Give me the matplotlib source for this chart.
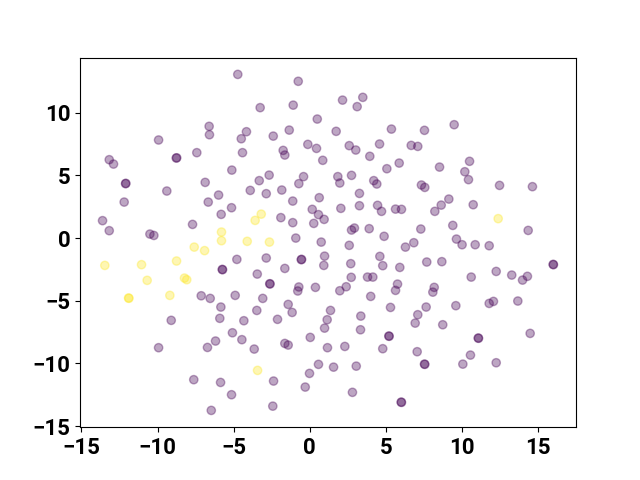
import numpy as np
import matplotlib
matplotlib.use("Agg")
import matplotlib.pyplot as plt

plt.rcParams["font.family"] = ["Roboto", "DejaVu Sans"]
plt.rcParams["font.weight"] = "bold"
plt.rcParams["font.size"] = 16

# class 0 (purple) embedding coordinates
x_a = [-4.73, -6.61, -6.59, -9.93, -4.16, -4.50, -4.42, -7.42, -8.77, -8.74,
       -13.17, -12.89, -5.12, -12.10, -12.08, -6.87, -9.39, -5.99, -3.91, -6.67,
       -12.19, -5.14, -5.82, -13.61, -7.70, -13.17, -10.50, -10.24,
       -0.76, 2.15, 3.48, 3.11, -3.26, -1.09, 0.49, -1.35, -2.40, 1.73,
       5.36, -0.13, 0.44, -1.75, -1.64, 0.85, 2.59, 3.02, 4.58, 3.94,
       6.66, 5.87, 5.06, -2.67, -3.32, -2.86, -1.84, -0.41, -0.72, 1.84,
       1.97, 2.74, 4.20, 4.40, -1.12, 0.62, 3.26, 0.16, 0.57, 0.94,
       0.26, 2.04, 3.26, 4.45, 4.71, 5.63, 6.02, -1.90, -1.12, 2.74,
       2.93, 3.90, 4.88, -0.92, 0.75,
       9.48, 7.53, 7.09, 8.52, 10.49, 10.18, 10.42, 7.33, 7.55, 12.46,
       14.62, 9.13, 8.63, 8.21, 10.73, 7.29, 9.39, 14.34, 9.63, 6.83,
       -4.79, -5.75, -5.73, -4.90, -7.13, -6.54, -5.84, -5.91, -4.33, -9.10,
       -5.08, -4.46, -6.19, -6.72, -9.93, -7.62, -5.86, -5.14, -6.47,
       2.59, 6.28, -2.86, -0.56, -0.54, 0.97, 0.92, 2.69, 4.60, 4.79,
       5.91, -1.64, -3.45, -2.63, -2.61, -0.72, -0.79, 0.37, 2.72, 3.79,
       4.14, 2.39, 1.97, 5.76, 5.63, 4.00, -3.09, -1.42, -1.16, -3.48,
       -2.12, 1.36, 1.14, 0.97, 3.35, 3.33, 5.30, 5.19, 5.21, -3.65,
       -1.64, -1.42, 0.03, 1.16, 2.30, 4.79, 0.57, 1.56, 3.05, -0.02,
       -2.38, -0.30, 2.80, 6.00, 6.02, -2.43,
       10.00, 10.86, 11.78, 7.68, 8.67, 15.98, 16.00, 10.60, 12.24, 13.26,
       13.97, 14.29, 8.17, 8.08, 7.64, 7.09, 6.92, 9.59, 8.73, 11.78,
       12.06, 13.66, 14.47, 11.06, 11.08, 7.05, 7.53, 7.55, 10.55, 10.05,
       12.24]
y_a = [13.05, 8.91, 8.24, 7.82, 8.48, 7.92, 6.81, 6.81, 6.38, 6.40,
       6.25, 5.90, 5.42, 4.34, 4.36, 4.44, 3.75, 3.43, 3.80, 2.87,
       2.87, 2.42, 1.89, 1.39, 1.09, 0.59, 0.32, 0.21,
       12.50, 11.00, 11.22, 10.48, 10.40, 10.60, 9.49, 8.61, 8.13, 8.51,
       8.69, 7.47, 7.15, 6.99, 6.62, 6.20, 7.37, 7.02, 7.50, 6.52,
       7.39, 5.98, 5.53, 5.02, 4.58, 3.54, 3.83, 4.90, 4.34, 4.90,
       4.39, 5.00, 4.58, 4.31, 2.95, 3.22, 3.56, 2.29, 1.87, 1.49,
       1.17, 2.37, 2.58, 2.61, 2.13, 2.31, 2.29, 1.63, 1.23, 0.64,
       0.80, 0.75, 0.14, 0.00, -0.32,
       9.04, 8.59, 7.31, 5.66, 6.12, 5.29, 4.66, 4.23, 4.04, 4.20,
       4.10, 3.11, 2.63, 2.13, 2.66, 0.72, 1.01, 0.61, -0.08, -0.37,
       -1.70, -2.50, -2.52, -4.57, -4.60, -4.81, -5.50, -6.40, -6.59, -6.56,
       -7.55, -8.10, -8.21, -8.72, -8.74, -11.29, -11.51, -12.49, -13.74,
       -0.58, -0.72, -1.59, -1.72, -1.70, -1.44, -2.18, -2.04, -1.46, -2.20,
       -2.34, -2.42, -2.87, -3.64, -3.66, -3.90, -4.22, -3.93, -3.13, -3.11,
       -3.11, -3.88, -4.20, -3.67, -4.17, -4.65, -4.81, -5.29, -5.93, -5.77,
       -6.48, -5.77, -6.51, -7.18, -6.22, -7.31, -5.53, -7.81, -7.83, -8.85,
       -8.40, -8.53, -7.92, -8.74, -8.64, -8.82, -10.07, -10.29, -10.21, -10.79,
       -11.40, -11.88, -12.30, -13.08, -13.10, -13.40,
       -0.53, -0.53, -0.61, -1.91, -1.88, -2.10, -2.12, -3.11, -2.66, -2.95,
       -3.35, -3.05, -3.93, -4.31, -5.50, -6.11, -6.78, -5.39, -6.91, -5.21,
       -5.05, -5.02, -7.60, -7.97, -7.99, -9.06, -10.05, -10.07, -9.33, -10.05,
       -9.94]

# class 1 (yellow) embedding coordinates
x_b = [-5.80, -5.80, -4.11, -3.19, -3.59, -2.65, 12.37, -7.59, -6.91, -13.46,
       -11.05, -8.75, -10.68, -8.23, -8.08, -11.90, -11.88, -9.19, -3.43]
y_b = [0.48, -0.21, -0.26, 1.91, 1.41, -0.32, 1.55, -0.72, -1.00, -2.18,
       -2.12, -1.83, -3.37, -3.19, -3.32, -4.78, -4.80, -4.57, -10.55]

x = np.array(x_a + x_b)
y = np.array(y_a + y_b)
labels = np.array([0] * len(x_a) + [1] * len(x_b))

fig, ax = plt.subplots(figsize=(6.4, 4.8), dpi=100)
ax.scatter(x, y, c=labels, cmap="viridis", alpha=0.35)

plt.savefig("out.png")
